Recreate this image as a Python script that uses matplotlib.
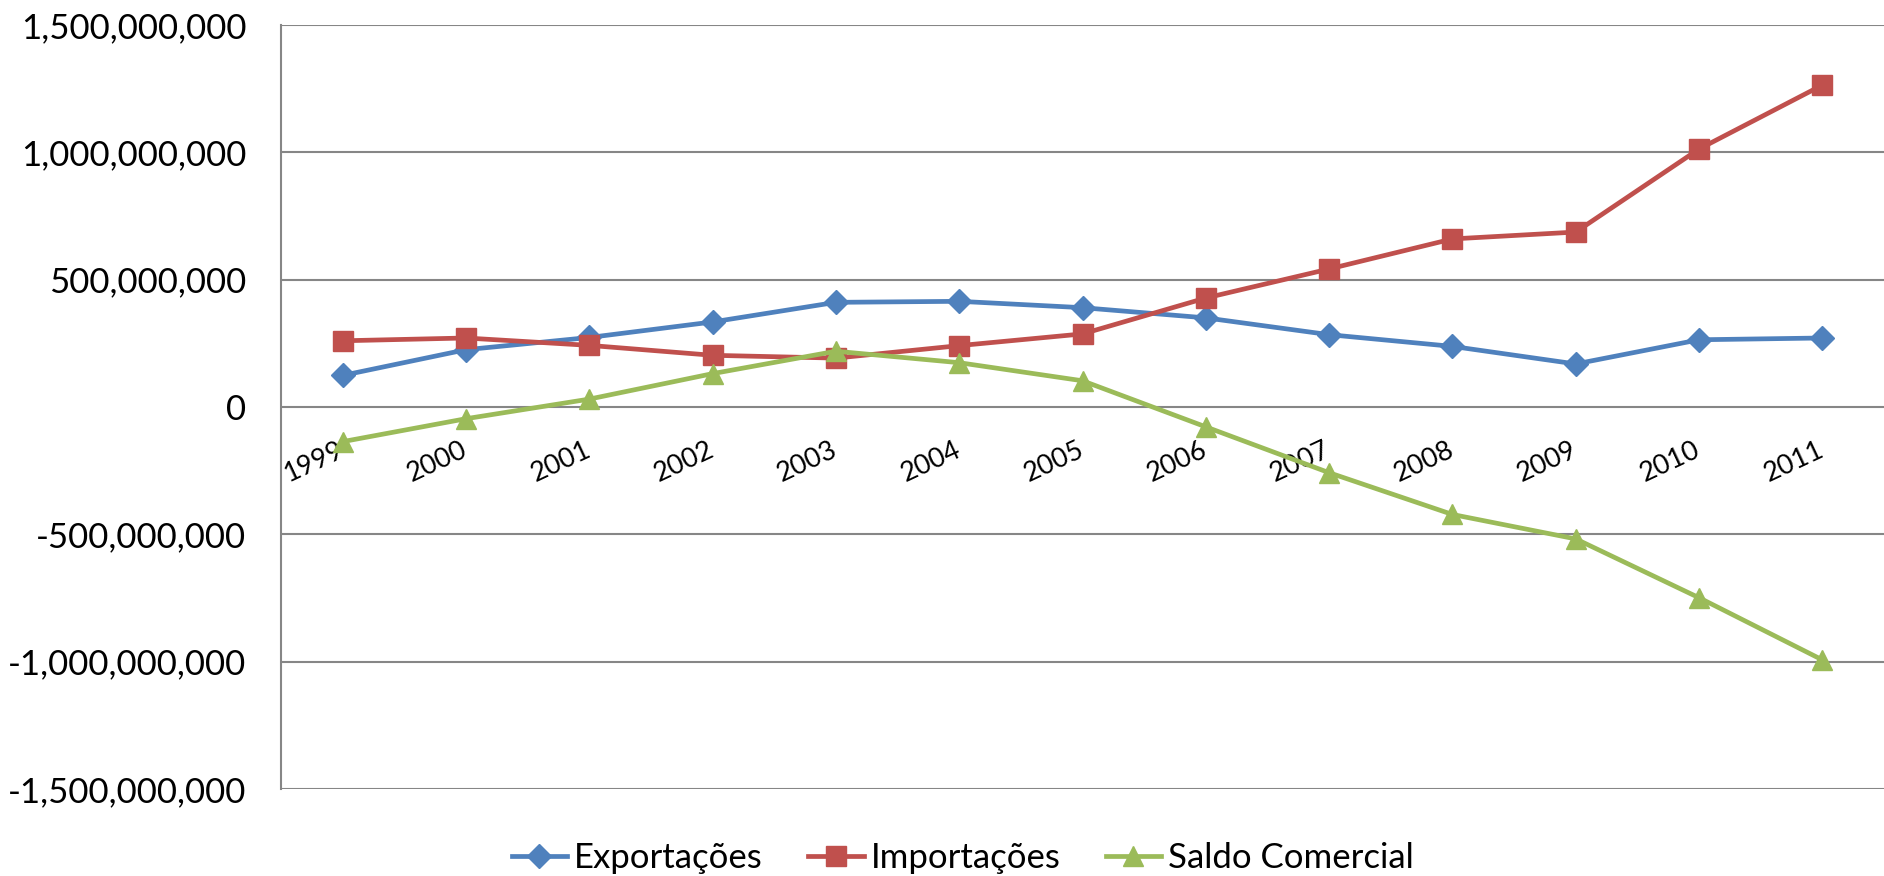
import matplotlib
matplotlib.use('Agg')
import matplotlib.pyplot as plt
from matplotlib.ticker import FuncFormatter, MultipleLocator

## dados
anos = ['1999', '2000', '2001', '2002', '2003', '2004', '2005',
        '2006', '2007', '2008', '2009', '2010', '2011']

exportacoes = [124e6, 225e6, 273e6, 334e6, 411e6, 415e6, 390e6,
               350e6, 284e6, 238e6, 169e6, 264e6, 271e6]

importacoes = [260e6, 271e6, 242e6, 203e6, 192e6, 241e6, 287e6,
               428e6, 542e6, 660e6, 687e6, 1013e6, 1264e6]

saldo_comercial = [-136e6, -46e6, 31e6, 131e6, 219e6, 174e6, 103e6,
                   -78e6, -258e6, -422e6, -518e6, -749e6, -993e6]

plt.rcParams['font.family'] = ['Lato', 'DejaVu Sans']


def main():

    fig = plt.figure(figsize=(18.84, 8.76), dpi=100)

    ax = fig.add_axes([281 / 1884, 1 - 789 / 876, 1 - 281 / 1884, (789 - 25) / 876])

    x = list(range(len(anos)))

    ax.plot(x, exportacoes, color='#4F81BD', lw=3.4, marker='D', ms=12.5,
            label='Exportações', zorder=3)

    ax.plot(x, importacoes, color='#C0504D', lw=3.4, marker='s', ms=14,
            label='Importações', zorder=4)

    ax.plot(x, saldo_comercial, color='#9BBB59', lw=3.4, marker='^', ms=14.5,
            label='Saldo Comercial', zorder=5)

    ax.set_xlim(-0.5, len(anos) - 0.5)
    ax.set_ylim(-1.5e9, 1.5e9)

    ax.yaxis.set_major_locator(MultipleLocator(5e8))
    ax.yaxis.set_major_formatter(FuncFormatter(lambda v, p: f"{v:,.0f}"))

    ax.grid(axis='y', color='#868686', lw=1.5, zorder=0)
    ax.set_axisbelow(True)

    for s in ['top', 'right', 'bottom']:
        ax.spines[s].set_visible(False)
    ax.spines['left'].set_color('#868686')
    ax.spines['left'].set_linewidth(1.5)

    ## eixo das categorias passa no zero
    ax.spines['bottom'].set_position(('data', 0))

    ax.set_xticks(x)
    ax.set_xticklabels(anos, rotation=25, ha='right', va='center',
                       rotation_mode='anchor', fontsize=19.5)
    ax.tick_params(axis='x', length=0, pad=30)
    ax.tick_params(axis='y', length=0, pad=25, labelsize=25)

    fig.legend(loc='center', bbox_to_anchor=(0.511, 0.02), ncol=3,
               frameon=False, fontsize=25, handlelength=1.6,
               handletextpad=0.2, columnspacing=1.3, borderpad=0)

    fig.savefig('out.png', dpi=100)


if __name__ == '__main__':

    main()
